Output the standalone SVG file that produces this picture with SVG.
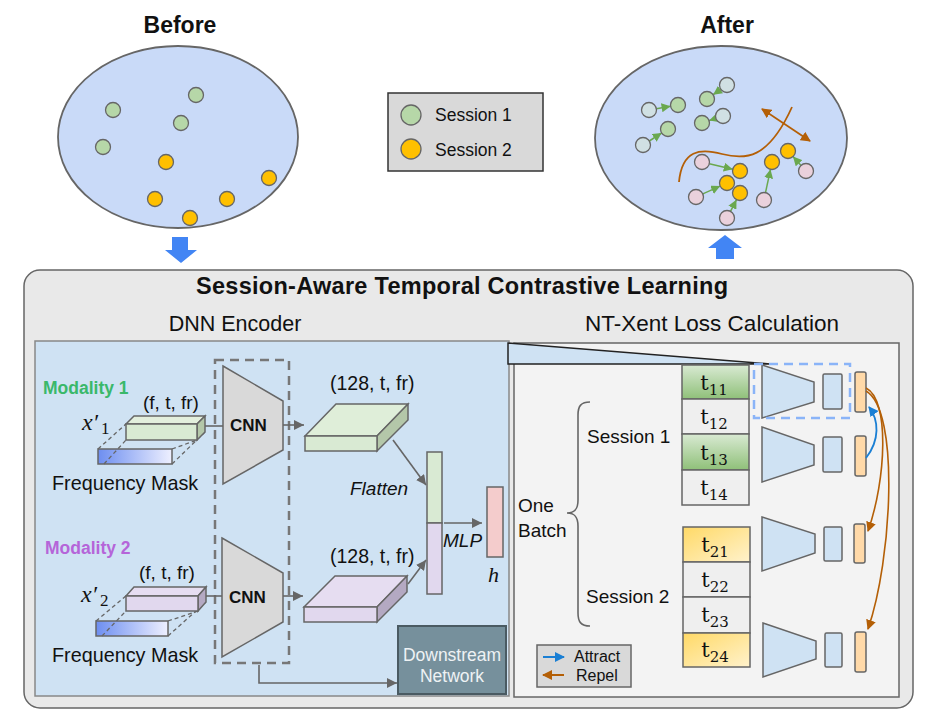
<svg xmlns="http://www.w3.org/2000/svg" width="929" height="728" viewBox="0 0 929 728">
<style>
.t{font-family:"Liberation Sans",Arial,sans-serif;fill:#111}
.b{font-weight:bold}
.ser{font-family:"Liberation Serif","DejaVu Serif",serif;fill:#111}
.cell{font-family:"DejaVu Serif","Liberation Serif",serif;fill:#111;font-size:21px}
.sub{font-size:15px}
.st{stroke:#666;stroke-width:1.5}
.dot{stroke:#666;stroke-width:1.3}
.g{fill:#b6d7a8}.o{fill:#ffc000}.lb{fill:#d0e0e3}.pk{fill:#ead1dc}
.ar{fill:none;stroke:#666;stroke-width:1.6}
</style>
<defs>
<marker id="mg" markerUnits="userSpaceOnUse" markerWidth="10" markerHeight="10" refX="10" refY="5" orient="auto"><path d="M0,0 L10,5 L0,10 z" fill="#666"/></marker>
<marker id="mgr" markerUnits="userSpaceOnUse" markerWidth="9" markerHeight="9" refX="9" refY="4.5" orient="auto"><path d="M0,0 L9,4.5 L0,9 z" fill="#6aa84f"/></marker>
<marker id="mbr" markerUnits="userSpaceOnUse" markerWidth="10" markerHeight="10" refX="9" refY="5" orient="auto-start-reverse"><path d="M0,0 L10,5 L0,10 z" fill="#b45f06"/></marker>
<marker id="mbl" markerUnits="userSpaceOnUse" markerWidth="10" markerHeight="10" refX="9" refY="5" orient="auto"><path d="M0,0 L10,5 L0,10 z" fill="#1a7fd4"/></marker>
<linearGradient id="mask" x1="0" y1="0" x2="1" y2="0"><stop offset="0" stop-color="#6d8ef0"/><stop offset="1" stop-color="#eef0ff"/></linearGradient>
<linearGradient id="gc" x1="0" y1="0" x2="0" y2="1"><stop offset="0" stop-color="#d9ead3"/><stop offset="1" stop-color="#8fc079"/></linearGradient>
<linearGradient id="oc" x1="0" y1="0" x2="1" y2="1"><stop offset="0" stop-color="#ffd966"/><stop offset="1" stop-color="#fff2cc"/></linearGradient>
</defs>

<!-- Before -->
<g id="before">
<text class="t b" x="180" y="33" font-size="23" text-anchor="middle">Before</text>
<ellipse cx="178" cy="137" rx="120" ry="91" fill="#c9daf8" stroke="#666" stroke-width="1.8"/>
<circle class="dot g" cx="196" cy="95" r="7.5"/>
<circle class="dot g" cx="113" cy="110" r="7.5"/>
<circle class="dot g" cx="181" cy="123" r="7.5"/>
<circle class="dot g" cx="103" cy="147" r="7.5"/>
<circle class="dot o" cx="166" cy="162" r="7.5"/>
<circle class="dot o" cx="269" cy="178" r="7.5"/>
<circle class="dot o" cx="155" cy="199" r="7.5"/>
<circle class="dot o" cx="227" cy="199" r="7.5"/>
<circle class="dot o" cx="190" cy="218" r="7.5"/>
<polygon points="172,237 188,237 188,250 197,250 181,263 165,250 172,250" fill="#4285f4"/>
</g>

<!-- Legend -->
<g id="legend">
<rect x="388" y="93" width="155" height="78" fill="#d9d9d9" stroke="#333" stroke-width="1.5"/>
<circle class="dot g" cx="411" cy="115" r="10"/>
<circle class="dot o" cx="411" cy="149" r="10"/>
<text class="t" x="435" y="121" font-size="17.5">Session 1</text>
<text class="t" x="435" y="156" font-size="17.5">Session 2</text>
</g>

<!-- After -->
<g id="after">
<text class="t b" x="727" y="33" font-size="23" text-anchor="middle">After</text>
<ellipse cx="721" cy="138" rx="126" ry="92" fill="#c9daf8" stroke="#666" stroke-width="1.8"/>
<path d="M679,182 C682,150 700,148 722,154 C745,160 768,160 792,107" fill="none" stroke="#b45f06" stroke-width="1.8"/>
<line x1="762" y1="109" x2="810" y2="141" stroke="#b45f06" stroke-width="1.8" marker-start="url(#mbr)" marker-end="url(#mbr)"/>
<g stroke="#6aa84f" stroke-width="1.5">
<line x1="656.4" y1="108.7" x2="670.6" y2="106.3" marker-end="url(#mgr)"/>
<line x1="649.3" y1="141" x2="661.7" y2="133" marker-end="url(#mgr)"/>
<line x1="720.9" y1="89.3" x2="713.1" y2="94.7" marker-end="url(#mgr)"/>
<line x1="715.9" y1="118.4" x2="709.1" y2="120.6" marker-end="url(#mgr)"/>
<line x1="709.3" y1="163.7" x2="732.7" y2="169.3" marker-end="url(#mgr)"/>
<line x1="702.8" y1="193.9" x2="720.2" y2="186.1" marker-end="url(#mgr)"/>
<line x1="730.5" y1="211.3" x2="736.5" y2="199.7" marker-end="url(#mgr)"/>
<line x1="765.5" y1="192.7" x2="770.5" y2="169.3" marker-end="url(#mgr)"/>
<line x1="801" y1="165.4" x2="793" y2="156.6" marker-end="url(#mgr)"/>
</g>
<circle class="dot lb" cx="649" cy="110" r="7.5"/>
<circle class="dot lb" cx="727" cy="85" r="7.5"/>
<circle class="dot lb" cx="723" cy="116" r="7.5"/>
<circle class="dot lb" cx="643" cy="145" r="7.5"/>
<circle class="dot g" cx="678" cy="105" r="7.5"/>
<circle class="dot g" cx="707" cy="99" r="7.5"/>
<circle class="dot g" cx="668" cy="129" r="7.5"/>
<circle class="dot g" cx="702" cy="123" r="7.5"/>
<circle class="dot pk" cx="702" cy="162" r="7.5"/>
<circle class="dot pk" cx="696" cy="197" r="7.5"/>
<circle class="dot pk" cx="727" cy="218" r="7.5"/>
<circle class="dot pk" cx="764" cy="200" r="7.5"/>
<circle class="dot pk" cx="806" cy="171" r="7.5"/>
<circle class="dot o" cx="740" cy="171" r="7.5"/>
<circle class="dot o" cx="727" cy="183" r="7.5"/>
<circle class="dot o" cx="740" cy="193" r="7.5"/>
<circle class="dot o" cx="772" cy="162" r="7.5"/>
<circle class="dot o" cx="788" cy="151" r="7.5"/>
<polygon points="725,235 742,248 734,248 734,259 716,259 716,248 708,248" fill="#4285f4"/>
</g>

<!-- Main container -->
<g id="main">
<rect x="24" y="270" width="889" height="438" rx="16" fill="#e9e9e9" stroke="#666" stroke-width="1.5"/>
<text class="t b" x="462" y="294" font-size="23.5" text-anchor="middle" textLength="532" lengthAdjust="spacing">Session-Aware Temporal Contrastive Learning</text>
<text class="t" x="235" y="331" font-size="21.5" text-anchor="middle">DNN Encoder</text>
<text class="t" x="712" y="331" font-size="22.5" text-anchor="middle">NT-Xent Loss Calculation</text>
</g>

<!-- Left panel -->
<g id="encoder-panel">
<rect x="35" y="341" width="474" height="355" fill="#cfe2f3" stroke="#888" stroke-width="1.5"/>
</g>

<!-- Right panel -->
<g id="loss-panel">
<rect x="514" y="343" width="385" height="354" fill="#f3f3f3" stroke="#666" stroke-width="1.5"/>
<polygon points="508,343 508,364 770,364" fill="#cfe2f3" stroke="#222" stroke-width="1.5"/>
</g>

<!-- Modality 1 input -->
<g id="input1">
<text class="t b" x="43" y="394" font-size="17.5" style="fill:#3ab86a">Modality 1</text>
<text class="t" x="143" y="409" font-size="19">(f, t, fr)</text>
<text class="ser" x="82" y="430" font-size="24" font-style="italic">x′<tspan font-size="17" font-style="normal" dx="3" dy="4">1</tspan></text>
<rect x="98" y="449" width="74" height="15" fill="url(#mask)" class="st"/>
<g stroke="#666" stroke-width="1.3" stroke-dasharray="4,3" fill="none">
<line x1="98" y1="449" x2="126" y2="424"/>
<line x1="104" y1="464" x2="126" y2="440"/>
<line x1="172" y1="449" x2="197" y2="440"/>
<line x1="172" y1="464" x2="205" y2="432"/>
</g>
<polygon points="126,424 134,416 205,416 197,424" fill="#e3efdd" class="st"/>
<polygon points="197,424 205,416 205,432 197,440" fill="#b4c7a9" class="st"/>
<rect x="126" y="424" width="71" height="16" fill="#d9ead3" class="st"/>
<text class="t" x="52" y="490" font-size="19.8">Frequency Mask</text>
</g>

<!-- Modality 2 input -->
<g id="input2">
<text class="t b" x="45" y="554" font-size="17.5" style="fill:#b565d9">Modality 2</text>
<text class="t" x="139" y="579" font-size="19">(f, t, fr)</text>
<text class="ser" x="81" y="602" font-size="24" font-style="italic">x′<tspan font-size="17" font-style="normal" dx="3" dy="4">2</tspan></text>
<rect x="96" y="621" width="72" height="15" fill="url(#mask)" class="st"/>
<g stroke="#666" stroke-width="1.3" stroke-dasharray="4,3" fill="none">
<line x1="96" y1="621" x2="126" y2="596"/>
<line x1="102" y1="636" x2="126" y2="611"/>
<line x1="168" y1="621" x2="198" y2="611"/>
<line x1="168" y1="636" x2="206" y2="602"/>
</g>
<polygon points="126,596 134,587 206,587 198,596" fill="#e6ddf1" class="st"/>
<polygon points="198,596 206,587 206,602 198,611" fill="#b4a9c2" class="st"/>
<rect x="126" y="596" width="72" height="15" fill="#e1d8ee" class="st"/>
<text class="t" x="52" y="662" font-size="19.8">Frequency Mask</text>
</g>

<!-- CNNs -->
<g id="cnn-encoder">
<rect x="215" y="360" width="74" height="303" fill="none" stroke="#777" stroke-width="2.5" stroke-dasharray="9,6"/>
<polygon points="223,366 283,401 283,450 223,484" fill="#d9d9d9" class="st"/>
<text class="t b" x="230" y="431" font-size="17">CNN</text>
<polygon points="222,538 283,573 283,622 222,657" fill="#d9d9d9" class="st"/>
<text class="t b" x="229" y="603" font-size="17">CNN</text>
</g>

<!-- Feature maps -->
<g id="feat1">
<text class="t" x="330" y="390" font-size="19.5">(128, t, fr)</text>
<polygon points="305,436 336,404 408,404 377,436" fill="#dfeed9" class="st"/>
<polygon points="377,436 408,404 408,420 377,451" fill="#b4c7a9" class="st"/>
<rect x="305" y="436" width="72" height="15" fill="#d9ead3" class="st"/>
</g>
<g id="feat2">
<text class="t" x="330" y="563" font-size="19.5">(128, t, fr)</text>
<polygon points="304,607 335,576 407,576 377,607" fill="#e6ddf1" class="st"/>
<polygon points="377,607 407,576 407,592 377,622" fill="#b4a9c2" class="st"/>
<rect x="304" y="607" width="73" height="15" fill="#e1d8ee" class="st"/>
</g>
<g id="flatten">
<text class="t" x="350" y="495" font-size="19" font-style="italic">Flatten</text>
<rect x="427" y="452" width="15" height="71" fill="#d9ead3" class="st"/>
<rect x="427" y="523" width="15" height="71" fill="#e1d8ee" class="st"/>
</g>
<g id="embedding">
<text class="t" x="443" y="547" font-size="19" font-style="italic">MLP</text>
<rect x="487" y="487" width="16" height="70" fill="#f4cccc" class="st"/>
<text class="ser" x="488" y="582" font-size="22" font-style="italic">h</text>
</g>
<g id="downstream">
<rect x="398" y="626" width="108" height="68" fill="#76909c" stroke="#4a5a62" stroke-width="2"/>
<text class="t" x="452" y="661" font-size="17.5" text-anchor="middle" style="fill:#eef2f4">Downstream</text>
<text class="t" x="452" y="682" font-size="17.5" text-anchor="middle" style="fill:#eef2f4">Network</text>
</g>

<!-- Batch cells -->
<g id="session1-cells">
<rect x="682" y="365" width="67" height="34" fill="url(#gc)" class="st"/>
<rect x="682" y="399" width="67" height="35" fill="#efefef" class="st"/>
<rect x="682" y="434" width="67" height="36" fill="url(#gc)" class="st"/>
<rect x="682" y="470" width="67" height="35" fill="#efefef" class="st"/>
<text class="cell" x="714" y="390" text-anchor="middle">t<tspan class="sub" dy="5">11</tspan></text>
<text class="cell" x="714" y="424" text-anchor="middle">t<tspan class="sub" dy="5">12</tspan></text>
<text class="cell" x="714" y="460" text-anchor="middle">t<tspan class="sub" dy="5">13</tspan></text>
<text class="cell" x="714" y="495" text-anchor="middle">t<tspan class="sub" dy="5">14</tspan></text>
</g>
<g id="session2-cells">
<rect x="683" y="527" width="67" height="35" fill="url(#oc)" class="st"/>
<rect x="683" y="562" width="67" height="35" fill="#efefef" class="st"/>
<rect x="683" y="597" width="67" height="36" fill="#efefef" class="st"/>
<rect x="683" y="633" width="67" height="34" fill="url(#oc)" class="st"/>
<text class="cell" x="715" y="552" text-anchor="middle">t<tspan class="sub" dy="5">21</tspan></text>
<text class="cell" x="715" y="587" text-anchor="middle">t<tspan class="sub" dy="5">22</tspan></text>
<text class="cell" x="715" y="622" text-anchor="middle">t<tspan class="sub" dy="5">23</tspan></text>
<text class="cell" x="715" y="657" text-anchor="middle">t<tspan class="sub" dy="5">24</tspan></text>
</g>
<g id="batch-labels">
<path d="M590,402 C581,402 578,406 578,415 L578,500 C578,509 575,513 567,513 C575,513 578,517 578,526 L578,613 C578,622 581,626 590,626" fill="none" stroke="#666" stroke-width="1.6"/>
<text class="t" x="587" y="443" font-size="19">Session 1</text>
<text class="t" x="586" y="603" font-size="19">Session 2</text>
<text class="t" x="518" y="512" font-size="19">One</text>
<text class="t" x="518" y="537" font-size="19">Batch</text>
</g>

<!-- Right encoders -->
<g id="enc-a">
<polygon points="762,365 814,382 814,402 762,418" fill="#cfe2f3" class="st"/>
<rect x="823" y="374" width="19" height="35" rx="1.5" fill="#cfe2f3" class="st"/>
<rect x="855" y="372" width="11" height="40" rx="2" fill="#ffd9a8" class="st"/>
<rect x="754" y="364" width="96" height="54" fill="none" stroke="#8ab4f8" stroke-width="2.5" stroke-dasharray="9,6"/>
</g>
<g id="enc-b">
<polygon points="762,427 814,445 814,465 762,482" fill="#cfe2f3" class="st"/>
<rect x="823" y="437" width="19" height="35" rx="1.5" fill="#cfe2f3" class="st"/>
<rect x="855" y="436" width="11" height="40" rx="2" fill="#ffd9a8" class="st"/>
</g>
<g id="enc-c">
<polygon points="762,517 815,534 815,553 762,571" fill="#cfe2f3" class="st"/>
<rect x="824" y="527" width="18" height="34" rx="1.5" fill="#cfe2f3" class="st"/>
<rect x="854" y="524" width="11" height="39" rx="2" fill="#ffd9a8" class="st"/>
</g>
<g id="enc-d">
<polygon points="763,623 816,641 816,659 763,677" fill="#cfe2f3" class="st"/>
<rect x="825" y="633" width="17" height="34" rx="1.5" fill="#cfe2f3" class="st"/>
<rect x="855" y="632" width="11" height="40" rx="2" fill="#ffd9a8" class="st"/>
</g>
<g id="loss-legend">
<rect x="537" y="645" width="94" height="42" fill="#d9d9d9" stroke="#666" stroke-width="1.5"/>
<text class="t" x="574" y="662" font-size="16">Attract</text>
<text class="t" x="576" y="681" font-size="16">Repel</text>
</g>

<!-- Connectors -->
<g id="connectors">
<line x1="205" y1="426" x2="223" y2="426" class="ar"/>
<line x1="206" y1="596" x2="222" y2="596" class="ar"/>
<line x1="283" y1="425" x2="304" y2="425" class="ar" marker-end="url(#mg)"/>
<line x1="283" y1="596" x2="303" y2="596" class="ar" marker-end="url(#mg)"/>
<line x1="393" y1="440" x2="426" y2="485" class="ar" marker-end="url(#mg)"/>
<line x1="408" y1="584" x2="426" y2="560" class="ar" marker-end="url(#mg)"/>
<line x1="444" y1="523" x2="482" y2="523" class="ar" marker-end="url(#mg)"/>
<polyline points="259,665 259,683 397,683" class="ar" marker-end="url(#mg)"/>
<line x1="543" y1="657" x2="564" y2="657" stroke="#1a7fd4" stroke-width="2" marker-end="url(#mbl)"/>
<line x1="564" y1="675" x2="543" y2="675" stroke="#b45f06" stroke-width="2" marker-end="url(#mbr)"/>
<path d="M866,458 C880,440 879,420 869,407" fill="none" stroke="#1a7fd4" stroke-width="1.8" marker-end="url(#mbl)"/>
<path d="M866,388 C890,400 886,480 868,531" fill="none" stroke="#b45f06" stroke-width="1.6" marker-end="url(#mbr)"/>
<path d="M866,391 C900,410 892,560 868,629" fill="none" stroke="#b45f06" stroke-width="1.6" marker-end="url(#mbr)"/>
</g>
</svg>
